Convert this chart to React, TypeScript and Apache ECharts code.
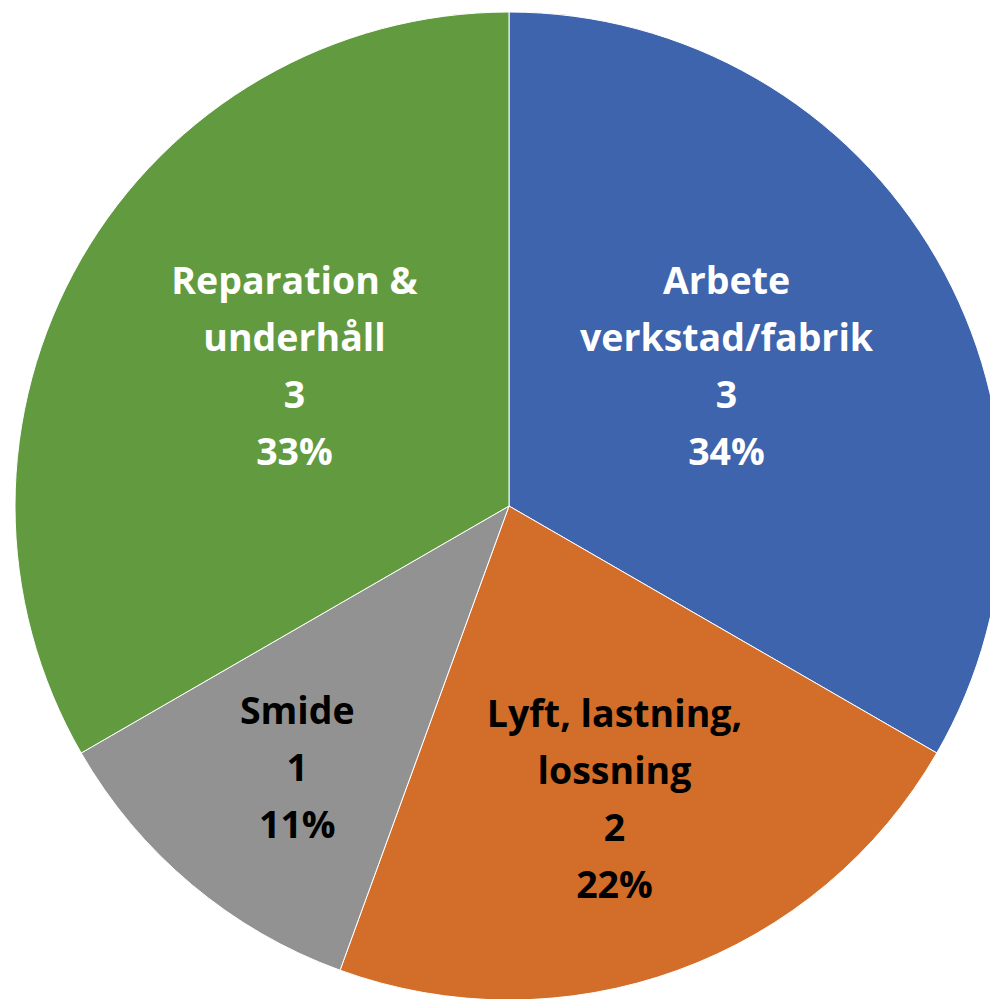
import React, { useEffect, useRef } from "react";
import * as echarts from "echarts";

const categories = [
  "Arbete\nverkstad/fabrik",
  "Lyft, lastning,\nlossning",
  "Smide",
  "Reparation &\nunderhåll",
];
const values = [3, 2, 1, 3];
const sliceColors = ["#3D64AD", "#D36E2A", "#929292", "#629A40"];
const labelColors = ["#FFFFFF", "#000000", "#000000", "#FFFFFF"];
// label nudges relative to ECharts' default "inside" position (style only)
const labelNudges: [number, number][] = [
  [1, -16],
  [20, 57],
  [-51, 69],
  [2, -16],
];

export default function App() {
  const ref = useRef<HTMLDivElement>(null);
  useEffect(() => {
    if (!ref.current) return;
    const chart = echarts.init(ref.current, undefined, { renderer: "svg" });
    chart.setOption({
      animation: false,
      backgroundColor: "#FFFFFF",
      series: [
        {
          type: "pie",
          center: [509, 506],
          radius: 494,
          startAngle: 90,
          clockwise: true,
          percentPrecision: 0,
          avoidLabelOverlap: false,
          itemStyle: { borderColor: "#FFFFFF", borderWidth: 1 },
          emphasis: { disabled: true },
          label: {
            show: true,
            position: "inside",
            formatter: "{b}\n{c}\n{d}%",
            fontFamily: "'Open Sans', Lato, sans-serif",
            fontWeight: "bold",
            fontSize: 37.5,
            lineHeight: 57,
            align: "center",
          },
          labelLine: { show: false },
          labelLayout: (p: any) => ({
            dx: labelNudges[p.dataIndex][0],
            dy: labelNudges[p.dataIndex][1],
          }),
          data: categories.map((name, i) => ({
            name,
            value: values[i],
            itemStyle: { color: sliceColors[i] },
            label: { color: labelColors[i] },
          })),
        },
      ],
    });
    return () => chart.dispose();
  }, []);
  return (
    <div
      ref={ref}
      style={{ position: "fixed", left: 0, top: 0, width: 990, height: 999 }}
    />
  );
}
